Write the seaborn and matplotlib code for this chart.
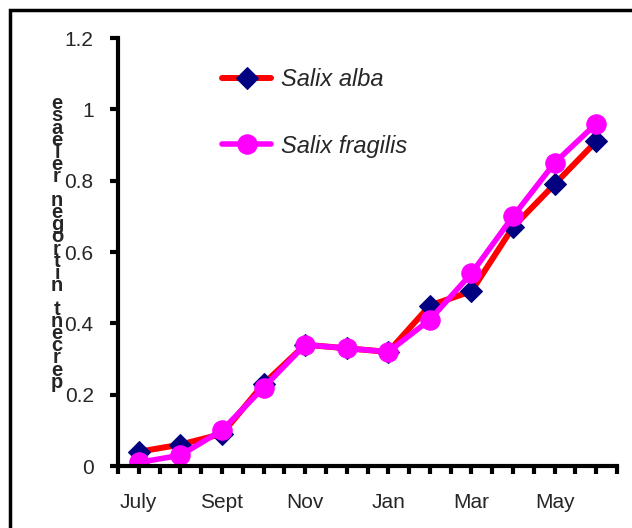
import numpy as np
import pandas as pd
import matplotlib
matplotlib.use('Agg')
import matplotlib.pyplot as plt
import seaborn as sns
from matplotlib.patches import Rectangle

# Data
months = ['July', 'Aug', 'Sept', 'Oct', 'Nov', 'Dec',
          'Jan', 'Feb', 'Mar', 'Apr', 'May', 'June']
alba = [0.04, 0.06, 0.09, 0.23, 0.34, 0.33, 0.32, 0.45, 0.49, 0.67, 0.79, 0.91]
fragilis = [0.01, 0.03, 0.10, 0.22, 0.34, 0.33, 0.32, 0.41, 0.54, 0.70, 0.85, 0.96]
ylabel = 'percent nitrogen release'

sns.set_style('white')
plt.rcParams['font.family'] = ['Liberation Sans', 'DejaVu Sans']

df = pd.DataFrame({'pos': np.arange(len(months)), 'month': months,
                   'alba': alba, 'fragilis': fragilis})

fig = plt.figure(figsize=(6.32, 5.28), dpi=100)
ax = fig.add_axes([118 / 632, 1 - 466 / 528, (617 - 118) / 632, (466 - 38) / 528])

sns.lineplot(data=df, x='pos', y='alba', ax=ax, color='#FF0000', lw=4.3,
             marker='D', ms=11.5, markerfacecolor='#000080', markeredgecolor='#000080',
             label='Salix alba', sort=False)
sns.lineplot(data=df, x='pos', y='fragilis', ax=ax, color='#FF00FF', lw=4,
             marker='o', ms=14, markerfacecolor='#FF00FF', markeredgecolor='#FF00FF',
             label='Salix fragilis', sort=False)

ax.set_xlim(-0.5, len(months) - 0.5)
ax.set_ylim(0, 1.2)
ax.set_xticks(np.arange(0, len(months), 2))
ax.set_xticklabels(months[::2])
ax.set_xticks(np.arange(-0.5, len(months), 0.5), minor=True)
ax.set_yticks(np.arange(0, 1.21, 0.2))
ax.set_yticklabels(['0', '0.2', '0.4', '0.6', '0.8', '1', '1.2'])

for s in ['top', 'right']:
    ax.spines[s].set_visible(False)
for s in ['left', 'bottom']:
    ax.spines[s].set_linewidth(3)
    ax.spines[s].set_color('black')

ax.tick_params(axis='both', which='both', direction='out', length=5.5, width=3,
               color='black', labelsize=15)
ax.tick_params(axis='y', left=True, pad=12)
ax.tick_params(axis='x', which='both', bottom=True, pad=14)
ax.set_xlabel('')
ax.set_ylabel('')

leg = ax.legend(loc='upper left', bbox_to_anchor=(0.208, 0.93), frameon=False,
                prop={'style': 'italic', 'size': 17}, handlelength=2.1,
                handletextpad=0.42, labelspacing=1.85, borderpad=0, borderaxespad=0)

# stacked, reversed axis title
fig.text(57 / 632, 1 - 243 / 528, '\n'.join(ylabel[::-1]), ha='center', va='center',
         fontsize=14.5, fontweight='bold', linespacing=0.54)

# outer frame
fig.patches.append(Rectangle((10 / 632, -0.2), 2, 1.2 - 10 / 528,
                             transform=fig.transFigure, fill=False,
                             edgecolor='black', lw=2.5, figure=fig))

fig.savefig('out.png', dpi=100)
